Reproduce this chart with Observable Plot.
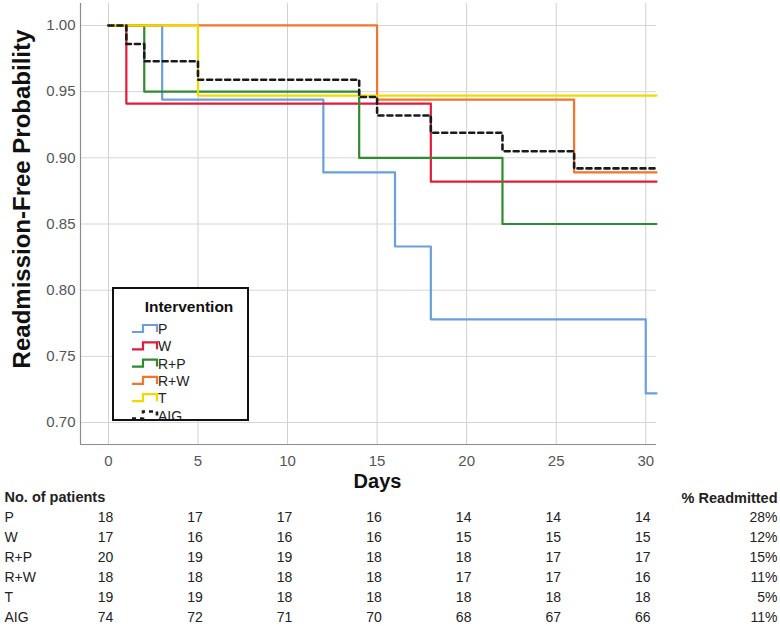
<!DOCTYPE html>
<html>
<head>
<meta charset="utf-8">
<script src="https://cdn.jsdelivr.net/npm/d3@7"></script>
<script src="https://cdn.jsdelivr.net/npm/@observablehq/plot@0.6"></script>
<style>
  body { margin: 0; background: #fff; font-family: "Liberation Sans", Arial, sans-serif; }
  #wrap { position: relative; width: 780px; height: 626px; }
  #wrap svg { display: block; overflow: visible; }
  #legend { position: absolute; left: 112px; top: 287px; width: 133px; height: 130px;
            border: 2px solid #111; background: #fff; overflow: hidden; }
</style>
</head>
<body>
<div id="wrap"><div id="legend"></div></div>
<script>
// ---- data ----
const groups = ["P", "W", "R+P", "R+W", "T", "AIG"];
const colors = ["#6a9fdc", "#e01b3c", "#2e8b2e", "#f5732b", "#f0da00", "#1a1a1a"];

const pDays   = [0, 3, 12, 16, 18, 30];
const pSurv   = [1.000, 0.944, 0.889, 0.833, 0.778, 0.722];
const wDays   = [0, 1, 18];
const wSurv   = [1.000, 0.941, 0.882];
const rpDays  = [0, 2, 14, 22];
const rpSurv  = [1.000, 0.950, 0.900, 0.850];
const rwDays  = [0, 15, 26];
const rwSurv  = [1.000, 0.944, 0.889];
const tDays   = [0, 5];
const tSurv   = [1.000, 0.947];
const aigDays = [0, 1, 2, 5, 14, 15, 18, 22, 26];
const aigSurv = [1.000, 0.986, 0.973, 0.959, 0.946, 0.932, 0.919, 0.905, 0.892];
const followUpEnd = 30.6;

const dayTicks  = [0, 5, 10, 15, 20, 25, 30];
const probTicks = [0.70, 0.75, 0.80, 0.85, 0.90, 0.95, 1.00];

const atRiskP   = [18, 17, 17, 16, 14, 14, 14];
const atRiskW   = [17, 16, 16, 16, 15, 15, 15];
const atRiskRP  = [20, 19, 19, 18, 18, 17, 17];
const atRiskRW  = [18, 18, 18, 18, 17, 17, 16];
const atRiskT   = [19, 19, 18, 18, 18, 18, 18];
const atRiskAIG = [74, 72, 71, 70, 68, 67, 66];
const pctReadmitted = ["28%", "12%", "15%", "11%", "5%", "11%"];

// ---- build tables ----
const seriesDays = [pDays, wDays, rpDays, rwDays, tDays, aigDays];
const seriesSurv = [pSurv, wSurv, rpSurv, rwSurv, tSurv, aigSurv];
const atRisk = [atRiskP, atRiskW, atRiskRP, atRiskRW, atRiskT, atRiskAIG];

const stepRows = groups.map((g, i) => {
  const rows = seriesDays[i].map((d, j) => ({group: g, day: d, surv: seriesSurv[i][j]}));
  rows.push({group: g, day: followUpEnd, surv: seriesSurv[i][seriesSurv[i].length - 1]});
  return rows;
});

const xDomain = [-1.56, followUpEnd];
const yDomain = [0.6834, 1.0166];
const font = "'Liberation Sans', Arial, sans-serif";

const lineMarks = stepRows.map((rows, i) => Plot.line(rows, {
  x: "day", y: "surv", curve: "step-after",
  stroke: colors[i],
  strokeWidth: groups[i] === "AIG" ? 2.6 : 2.2,
  strokeDasharray: groups[i] === "AIG" ? "5,4" : null
}));

const main = Plot.plot({
  width: 780, height: 490,
  marginLeft: 80, marginRight: 124, marginTop: 3, marginBottom: 46,
  style: {fontFamily: font, background: "#fff"},
  x: {domain: xDomain},
  y: {domain: yDomain},
  marks: [
    Plot.gridX(dayTicks, {stroke: "#d0d0d0", strokeOpacity: 1}),
    Plot.gridY(probTicks, {stroke: "#d6d6d6", strokeOpacity: 1}),
    Plot.ruleX([xDomain[0]], {stroke: "#8c8c8c", strokeWidth: 1.2}),
    Plot.ruleY([yDomain[0]], {stroke: "#8c8c8c", strokeWidth: 1.2}),
    ...lineMarks,
    Plot.axisX(dayTicks, {tickSize: 0, tickPadding: 11, fontSize: 15, color: "#555", label: null}),
    Plot.axisY(probTicks, {tickSize: 0, tickPadding: 5, fontSize: 15, color: "#555",
                           tickFormat: d3.format(".2f"), label: null}),
    Plot.text(["Days"], {frameAnchor: "bottom", textAnchor: "middle", lineAnchor: "middle",
                         dx: 9, dy: 37, fontSize: 20, fontWeight: "bold", fill: "#111"}),
    Plot.text(["Readmission-Free Probability"], {frameAnchor: "left", textAnchor: "middle", lineAnchor: "middle",
                                                 rotate: -90, dx: -58, dy: -25,
                                                 fontSize: 24, fontWeight: "bold", fill: "#111"})
  ]
});

const cells = groups.flatMap((g, i) => atRisk[i].map((n, j) => ({group: g, day: dayTicks[j], n})));

const table = Plot.plot({
  width: 780, height: 136,
  marginLeft: 80, marginRight: 124, marginTop: 6, marginBottom: 8,
  style: {fontFamily: font, background: "#fff"},
  x: {domain: xDomain, axis: null},
  y: {type: "point", domain: ["header", ...groups], padding: 0, axis: null},
  marks: [
    Plot.text(["No. of patients"], {y: () => "header", frameAnchor: "left", textAnchor: "start",
                                    dx: -76, fontSize: 14.5, fontWeight: "bold", fill: "#222"}),
    Plot.text(["% Readmitted"], {y: () => "header", frameAnchor: "right", textAnchor: "end",
                                 dx: 121, dy: 1, fontSize: 14.5, fontWeight: "bold", fill: "#222"}),
    Plot.text(groups, {y: d => d, text: d => d, frameAnchor: "left", textAnchor: "start",
                       dx: -76, fontSize: 14, fill: "#222"}),
    Plot.text(cells, {x: "day", y: "group", text: "n", dx: -3, fontSize: 14, fill: "#222"}),
    Plot.text(pctReadmitted, {y: (d, i) => groups[i], text: d => d, frameAnchor: "right",
                              textAnchor: "end", dx: 121, fontSize: 14, fill: "#222"})
  ]
});

const wrap = document.getElementById("wrap");
wrap.insertBefore(table, wrap.firstChild);
wrap.insertBefore(main, table);

// ---- legend ----
const leg = d3.select("#legend").append("svg")
  .attr("width", 133).attr("height", 130)
  .style("font-family", font);
leg.append("text").attr("x", 75).attr("y", 17).attr("text-anchor", "middle")
  .attr("dominant-baseline", "central")
  .style("font-size", "15.5px").style("font-weight", "bold").attr("fill", "#111")
  .text("Intervention");
groups.forEach((g, i) => {
  const cy = 40 + i * 17.3;
  leg.append("path")
    .attr("d", `M18,${cy + 3}H29V${cy - 4}H43V${cy + 3}`)
    .attr("fill", "none").attr("stroke", colors[i])
    .attr("stroke-width", g === "AIG" ? 2.6 : 2.2)
    .attr("stroke-dasharray", g === "AIG" ? "4,4" : null);
  leg.append("text").attr("x", 44).attr("y", cy).attr("dominant-baseline", "central")
    .style("font-size", "14px").attr("fill", "#222").text(g);
});
</script>
</body>
</html>
